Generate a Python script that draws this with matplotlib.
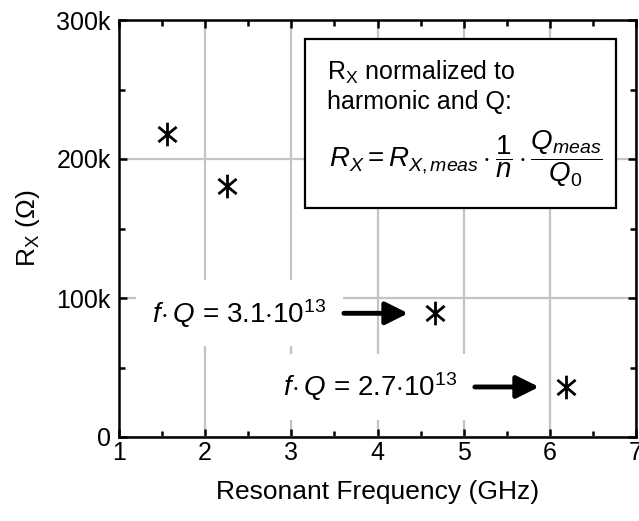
import matplotlib
matplotlib.use("Agg")
import matplotlib.pyplot as plt
from matplotlib.patches import Rectangle
from matplotlib.path import Path
import numpy as np

plt.rcParams['font.family'] = ['Liberation Sans', 'DejaVu Sans']
plt.rcParams['mathtext.fontset'] = 'custom'
plt.rcParams['mathtext.rm'] = 'Liberation Sans'
plt.rcParams['mathtext.it'] = 'Liberation Sans:italic'
plt.rcParams['mathtext.bf'] = 'Liberation Sans:bold'

# data
freq_ghz = [1.56, 2.25, 4.67, 6.19]
rx_ohm = [218e3, 180.5e3, 89e3, 36e3]

fq_labels = [r"$f\!\cdot Q$ = 3.1$\cdot$10$^{13}$",
             r"$f\!\cdot Q$ = 2.7$\cdot$10$^{13}$"]
fq_points = [2, 3]          # which points the f*Q labels point at

x_ticks = [1, 2, 3, 4, 5, 6, 7]
y_ticks = [0, 100e3, 200e3, 300e3]
y_tick_labels = ["0", "100k", "200k", "300k"]

TICK_FS = 18
LABEL_FS = 19
BOX_FS = 18
FORMULA_FS = 20
ANN_FS = 20
LW = 1.8

# asterisk: vertical bar plus an X
ASTERISK = Path([(0, -1), (0, 1),
                 (-0.77, -0.64), (0.77, 0.64),
                 (-0.77, 0.64), (0.77, -0.64)],
                [Path.MOVETO, Path.LINETO] * 3)

fig = plt.figure(figsize=(6.39, 5.21), dpi=100)
ax = fig.add_axes([119 / 639, 84 / 521, 517 / 639, 417 / 521])

ax.plot(freq_ghz, rx_ohm, linestyle="none", marker=ASTERISK,
        markersize=17, markeredgewidth=2.0, color="black", zorder=5)

ax.set_xlim(1, 7)
ax.set_ylim(0, 300e3)
ax.set_xticks(x_ticks)
ax.set_xticklabels([str(t) for t in x_ticks])
ax.set_yticks(y_ticks)
ax.set_yticklabels(y_tick_labels)
ax.set_xticks(np.arange(1.5, 7, 1.0), minor=True)
ax.set_yticks(np.arange(50e3, 300e3, 100e3), minor=True)

ax.grid(True, which="major", color="#c4c4c4", linewidth=1.6, zorder=0)
ax.set_axisbelow(True)

for spine in ax.spines.values():
    spine.set_linewidth(LW)

ax.tick_params(which="both", direction="in", top=True, right=True,
               width=LW, labelsize=TICK_FS)
ax.tick_params(which="major", length=6)
ax.tick_params(which="minor", length=4)
ax.tick_params(axis="x", pad=3)
ax.tick_params(axis="y", pad=6)

ax.set_xlabel("Resonant Frequency (GHz)", fontsize=LABEL_FS, labelpad=11)
ax.set_ylabel(r"R$_\mathrm{X}$ (Ω)", fontsize=LABEL_FS, labelpad=10)

# f*Q annotations with arrows
for label, idx in zip(fq_labels, fq_points):
    px, py = freq_ghz[idx], rx_ohm[idx]
    tip = px - 0.315
    start = tip - 0.745
    ax.annotate("", xy=(tip, py), xytext=(start, py),
                arrowprops=dict(arrowstyle="-|>", color="black", lw=3.5,
                                mutation_scale=34, shrinkA=0, shrinkB=0),
                zorder=4)
    ax.text(start - 0.2, py, label, ha="right", va="center",
            fontsize=ANN_FS, zorder=3,
            bbox=dict(boxstyle="square,pad=0.6", facecolor="white",
                      edgecolor="none"))

# formula box
ax.add_patch(Rectangle((0.360, 0.549), 0.601, 0.405, transform=ax.transAxes,
                       facecolor="white", edgecolor="black", linewidth=1.6,
                       zorder=3))
ax.text(0.402, 0.856, r"R$_\mathrm{X}$ normalized to", transform=ax.transAxes,
        fontsize=BOX_FS, ha="left", va="baseline", zorder=4)
ax.text(0.402, 0.786, "harmonic and Q:", transform=ax.transAxes,
        fontsize=BOX_FS, ha="left", va="baseline", zorder=4)
ax.text(0.406, 0.668,
        r"$R_X = R_{X,meas}\cdot\dfrac{1}{n}\cdot\dfrac{Q_{meas}}{Q_0}$",
        transform=ax.transAxes, fontsize=FORMULA_FS, ha="left", va="center",
        zorder=4)

fig.savefig("out.png", dpi=100)
